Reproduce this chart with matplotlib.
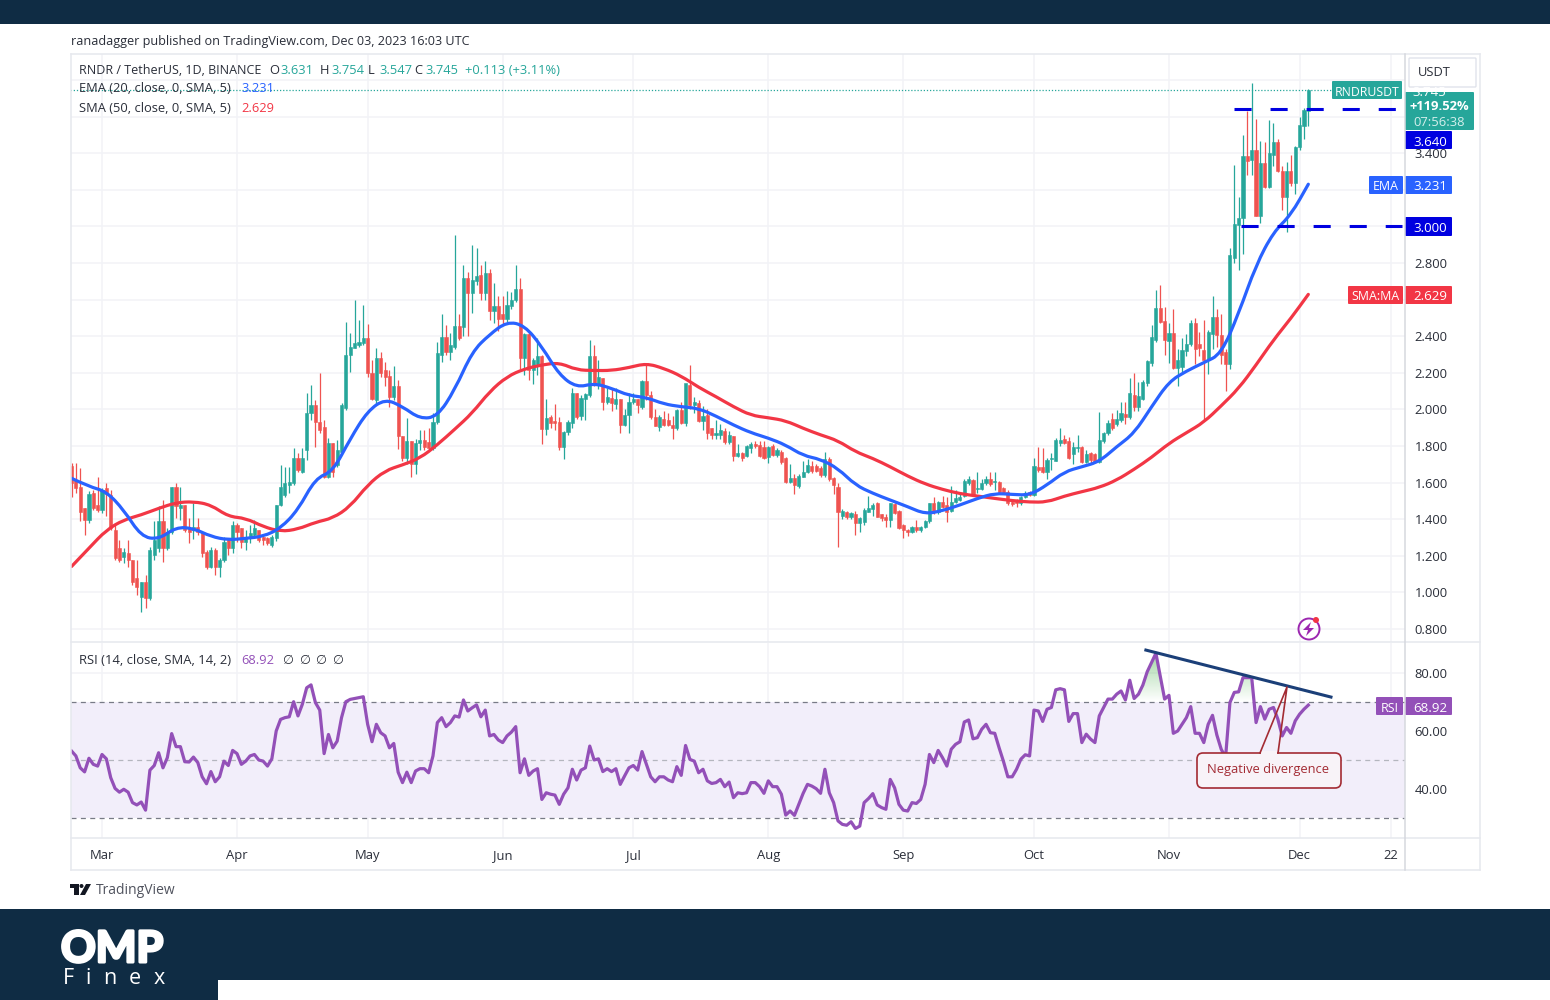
import numpy as np
import matplotlib
matplotlib.use("Agg")
import matplotlib.pyplot as plt
import matplotlib.patheffects as pe
from matplotlib.path import Path
from matplotlib.patches import Rectangle, FancyBboxPatch, Circle, Polygon, PathPatch

plt.rcParams['font.family'] = ['Open Sans', 'DejaVu Sans']

# daily candles, RNDR/USDT (days counted from Mar 1)
first_day = -7
opens = [
    1.69,1.615,1.579,1.46,1.397,1.542,1.479,1.451,1.57,1.533,
    1.342,1.242,1.196,1.215,1.178,1.078,0.978,1.06,0.969,1.205,
    1.242,1.388,1.242,1.333,1.579,1.46,1.479,1.351,1.342,1.36,
    1.333,1.224,1.142,1.233,1.142,1.178,1.287,1.242,1.369,1.351,
    1.278,1.296,1.315,1.342,1.306,1.30,1.26,1.296,1.479,1.533,
    1.588,1.597,1.734,1.661,1.779,1.98,2.025,1.934,1.903,1.633,
    1.816,1.697,1.77,2.007,2.298,2.335,2.353,2.362,2.389,2.198,
    2.052,2.28,2.216,2.185,2.07,2.129,1.857,1.737,1.83,1.70,
    1.815,1.834,1.825,1.788,1.934,2.298,2.398,2.313,2.344,2.459,
    2.453,2.717,2.635,2.70,2.735,2.639,2.745,2.536,2.568,2.52,
    2.493,2.566,2.60,2.657,2.28,2.413,2.216,2.25,2.293,1.892,
    1.958,1.938,1.934,1.797,1.879,1.925,2.089,1.965,2.06,2.08,
    2.29,2.14,2.17,2.043,2.065,2.03,2.06,1.916,1.97,2.04,
    2.06,2.015,2.157,2.079,1.961,1.905,1.948,1.942,1.915,1.897,
    1.997,1.928,2.134,2.024,2.034,1.939,1.97,1.897,1.86,1.86,
    1.882,1.824,1.857,1.746,1.764,1.746,1.79,1.81,1.806,1.797,
    1.74,1.80,1.75,1.77,1.733,1.605,1.624,1.58,1.63,1.66,
    1.69,1.69,1.68,1.642,1.728,1.624,1.575,1.42,1.442,1.415,
    1.43,1.378,1.387,1.442,1.455,1.49,1.427,1.414,1.396,1.482,
    1.447,1.37,1.34,1.332,1.36,1.34,1.356,1.392,1.487,1.44,
    1.496,1.478,1.447,1.493,1.505,1.527,1.596,1.615,1.565,1.565,
    1.596,1.618,1.606,1.605,1.569,1.551,1.496,1.50,1.487,1.52,
    1.55,1.533,1.687,1.687,1.66,1.73,1.72,1.815,1.838,1.83,
    1.757,1.79,1.797,1.715,1.76,1.755,1.715,1.83,1.87,1.948,
    1.92,1.94,1.975,1.957,2.079,2.015,2.06,2.143,2.252,2.379,
    2.552,2.485,2.375,2.416,2.225,2.234,2.32,2.36,2.47,2.36,
    2.325,2.27,2.415,2.507,2.407,2.316,2.25,2.83,3.008,3.045,
    3.385,3.363,3.418,3.06,3.349,3.214,3.39,3.463,3.305,3.159,
    3.305,3.236,3.432,3.55,3.631]
highs = [
    1.706,1.706,1.679,1.46,1.552,1.56,1.633,1.57,1.60,1.56,
    1.37,1.287,1.242,1.287,1.178,1.178,1.06,1.096,1.25,1.388,
    1.47,1.506,1.351,1.579,1.597,1.579,1.48,1.406,1.488,1.406,
    1.333,1.233,1.251,1.242,1.187,1.306,1.296,1.388,1.378,1.351,
    1.342,1.369,1.397,1.342,1.315,1.306,1.315,1.48,1.697,1.688,
    1.688,1.788,1.761,1.788,2.089,2.134,2.052,2.198,1.943,1.843,
    1.816,1.834,2.038,2.48,2.417,2.599,2.49,2.572,2.467,2.27,
    2.335,2.316,2.26,2.216,2.237,2.16,1.857,1.955,1.83,1.84,
    1.89,1.89,1.90,1.98,2.37,2.52,2.46,2.42,2.954,2.52,
    2.79,2.75,2.90,2.88,2.79,2.81,2.77,2.69,2.62,2.62,
    2.65,2.64,2.79,2.72,2.42,2.42,2.28,2.39,2.30,2.06,
    1.97,2.03,1.96,1.88,1.94,2.12,2.09,2.08,2.09,2.38,
    2.35,2.27,2.17,2.12,2.12,2.12,2.06,2.0,2.09,2.09,
    2.06,2.16,2.245,2.10,2.0,1.97,1.99,1.98,1.965,2.0,
    2.04,2.14,2.245,2.07,2.05,2.02,2.0,1.90,1.94,1.92,
    1.90,1.88,1.857,1.81,1.77,1.805,1.82,1.83,1.83,1.83,
    1.80,1.81,1.79,1.78,1.74,1.70,1.65,1.65,1.72,1.73,
    1.72,1.70,1.69,1.77,1.74,1.63,1.60,1.455,1.445,1.44,
    1.445,1.41,1.46,1.53,1.49,1.495,1.43,1.43,1.49,1.49,
    1.45,1.375,1.345,1.365,1.395,1.365,1.395,1.49,1.52,1.50,
    1.53,1.52,1.58,1.56,1.55,1.62,1.635,1.62,1.657,1.62,
    1.635,1.66,1.66,1.61,1.575,1.56,1.50,1.51,1.53,1.555,
    1.555,1.735,1.797,1.79,1.735,1.76,1.845,1.90,1.86,1.85,
    1.82,1.86,1.80,1.78,1.77,1.76,1.985,1.875,1.945,1.98,
    1.995,2.04,2.04,2.17,2.197,2.15,2.16,2.27,2.46,2.652,
    2.68,2.56,2.47,2.55,2.33,2.39,2.41,2.49,2.50,2.425,
    2.49,2.435,2.62,2.55,2.52,2.33,2.88,3.336,3.16,3.50,
    3.63,3.785,3.59,3.465,3.46,3.58,3.565,3.48,3.33,3.35,
    3.39,3.44,3.60,3.65,3.754]
lows = [
    1.524,1.542,1.388,1.315,1.378,1.45,1.44,1.433,1.42,1.34,
    1.178,1.169,1.16,1.142,1.041,0.987,0.896,0.914,0.96,1.178,
    1.224,1.169,1.233,1.32,1.406,1.397,1.33,1.269,1.29,1.315,
    1.196,1.127,1.133,1.096,1.087,1.169,1.205,1.215,1.278,1.242,
    1.233,1.269,1.306,1.278,1.26,1.26,1.251,1.28,1.47,1.524,
    1.542,1.59,1.661,1.652,1.725,1.943,1.797,1.87,1.624,1.624,
    1.633,1.688,1.761,1.998,2.207,2.335,2.34,2.35,2.18,2.05,
    2.03,2.18,2.128,2.016,2.05,1.785,1.72,1.70,1.63,1.65,
    1.78,1.78,1.78,1.78,1.92,2.26,2.30,2.27,2.33,2.38,
    2.40,2.40,2.53,2.68,2.60,2.60,2.49,2.47,2.43,2.46,
    2.48,2.55,2.59,2.22,2.19,2.16,2.14,2.19,1.81,1.86,
    1.90,1.89,1.78,1.73,1.86,1.90,1.95,1.94,1.94,2.07,
    2.13,2.11,1.998,2.03,1.99,2.0,1.87,1.91,1.87,2.03,
    1.98,2.0,2.05,1.95,1.91,1.88,1.91,1.91,1.84,1.89,
    1.92,1.91,2.0,1.98,1.93,1.89,1.84,1.84,1.84,1.84,
    1.81,1.81,1.72,1.74,1.72,1.74,1.76,1.79,1.74,1.73,
    1.71,1.745,1.74,1.70,1.60,1.60,1.54,1.57,1.63,1.655,
    1.655,1.66,1.63,1.63,1.61,1.54,1.25,1.40,1.40,1.40,
    1.315,1.33,1.37,1.44,1.42,1.41,1.39,1.36,1.36,1.43,
    1.345,1.296,1.31,1.325,1.33,1.33,1.35,1.38,1.43,1.43,
    1.46,1.385,1.44,1.49,1.50,1.52,1.585,1.53,1.545,1.56,
    1.59,1.58,1.56,1.54,1.54,1.48,1.47,1.465,1.48,1.515,
    1.525,1.53,1.66,1.655,1.62,1.67,1.72,1.80,1.81,1.73,
    1.70,1.77,1.71,1.705,1.71,1.705,1.71,1.815,1.86,1.89,
    1.91,1.93,1.92,1.95,1.99,1.99,2.05,2.13,2.24,2.37,
    2.47,2.298,2.255,2.22,2.13,2.20,2.29,2.345,2.25,2.29,
    1.94,2.195,2.33,2.34,2.25,2.10,2.22,2.80,2.76,2.85,
    3.28,3.28,3.06,3.02,3.21,3.21,3.33,3.30,3.09,2.97,
    3.22,3.18,3.42,3.48,3.547]
closes = [
    1.60,1.57,1.442,1.397,1.539,1.46,1.451,1.561,1.54,1.351,
    1.187,1.178,1.224,1.178,1.06,1.032,1.06,0.969,1.233,1.287,
    1.388,1.242,1.333,1.579,1.47,1.479,1.342,1.333,1.36,1.333,
    1.215,1.142,1.233,1.142,1.178,1.278,1.242,1.369,1.333,1.278,
    1.296,1.324,1.351,1.287,1.287,1.269,1.306,1.479,1.579,1.597,
    1.606,1.734,1.67,1.734,1.98,2.025,1.934,1.888,1.633,1.816,
    1.661,1.779,2.025,2.298,2.344,2.362,2.371,2.389,2.198,2.056,
    2.28,2.198,2.18,2.07,2.129,1.857,1.737,1.83,1.70,1.816,
    1.834,1.797,1.788,1.934,2.307,2.398,2.313,2.353,2.459,2.39,
    2.717,2.635,2.708,2.73,2.639,2.745,2.539,2.568,2.493,2.493,
    2.57,2.60,2.657,2.28,2.413,2.216,2.27,2.293,1.892,1.956,
    1.925,1.925,1.797,1.879,1.929,2.089,1.961,2.065,2.085,2.29,
    2.143,2.18,2.043,2.067,2.034,2.06,1.916,1.97,2.043,2.06,
    2.025,2.157,2.079,1.961,1.91,1.96,1.915,1.915,1.897,1.997,
    1.928,2.143,2.024,2.043,1.939,1.964,1.87,1.86,1.87,1.888,
    1.824,1.86,1.746,1.764,1.733,1.802,1.81,1.80,1.746,1.733,
    1.793,1.75,1.78,1.715,1.605,1.624,1.587,1.637,1.66,1.696,
    1.665,1.665,1.642,1.728,1.618,1.587,1.442,1.445,1.415,1.433,
    1.378,1.405,1.45,1.46,1.478,1.414,1.405,1.396,1.487,1.436,
    1.35,1.34,1.332,1.36,1.34,1.36,1.392,1.487,1.44,1.496,
    1.469,1.44,1.496,1.514,1.523,1.61,1.618,1.533,1.57,1.596,
    1.62,1.592,1.612,1.551,1.545,1.487,1.483,1.487,1.523,1.545,
    1.533,1.691,1.67,1.66,1.724,1.733,1.833,1.833,1.815,1.733,
    1.797,1.797,1.715,1.757,1.724,1.715,1.833,1.87,1.924,1.897,
    1.95,1.979,1.957,2.088,2.015,2.073,2.152,2.267,2.394,2.552,
    2.48,2.38,2.416,2.225,2.27,2.325,2.36,2.47,2.33,2.335,
    2.27,2.425,2.507,2.407,2.30,2.25,2.844,3.014,3.045,3.385,
    3.36,3.418,3.06,3.349,3.214,3.40,3.463,3.305,3.159,3.305,
    3.236,3.432,3.555,3.636,3.745]

# moving averages read every 4th day
ma_step = 4
ema20 = [
    1.624,1.579,1.552,1.451,1.306,1.29,1.357,1.351,1.306,1.287,
    1.296,1.306,1.351,1.451,1.624,1.661,1.84,1.992,2.058,2.016,
    1.949,1.961,2.107,2.316,2.41,2.48,2.46,2.344,2.189,2.12,
    2.143,2.116,2.076,2.066,2.03,2.015,2.006,1.964,1.915,1.873,
    1.844,1.806,1.748,1.728,1.678,1.587,1.542,1.505,1.469,1.429,
    1.447,1.478,1.514,1.542,1.536,1.532,1.587,1.66,1.687,1.715,
    1.797,1.87,2.015,2.152,2.21,2.256,2.303,2.525,2.79,2.97,
    3.063,3.231]
sma50 = [
    1.142,1.242,1.342,1.397,1.424,1.46,1.491,1.497,1.479,1.415,
    1.406,1.36,1.333,1.346,1.384,1.406,1.47,1.588,1.666,1.697,
    1.734,1.807,1.892,1.98,2.098,2.18,2.222,2.244,2.256,2.216,
    2.213,2.213,2.229,2.252,2.225,2.183,2.121,2.07,2.015,1.968,
    1.955,1.939,1.897,1.861,1.83,1.769,1.733,1.687,1.636,1.593,
    1.563,1.54,1.527,1.514,1.502,1.494,1.494,1.527,1.551,1.574,
    1.614,1.673,1.738,1.815,1.873,1.93,2.02,2.115,2.243,2.38,
    2.498,2.629]

rsi = [
    53.1,51.4,47.3,45.9,50.6,48.5,47.9,51.9,50.4,43.9,
    40.2,38.9,39.9,38.9,35.3,34.5,35.5,32.7,46.5,48.1,
    52.5,47.3,50.8,59.1,54.6,54.6,49.4,49.3,51.0,49.1,
    44.2,41.8,46.0,42.5,44.2,49.6,48.1,53.3,52.2,48.5,
    49.6,51.4,51.9,50.0,49.6,47.9,50.4,60.0,64.0,64.6,
    64.9,70.1,65.2,69.2,74.9,75.9,69.8,67.2,52.2,58.8,
    54.2,56.5,64.6,70.1,70.9,71.2,71.5,71.8,62.3,56.3,
    62.3,59.4,58.3,54.2,55.7,45.8,42.2,45.8,42.2,46.2,
    47,47,45.6,51.4,62.9,64.6,61.5,62.9,65.2,64.8,
    70.7,66.9,68,69,64.9,67.2,58.3,58.8,56.9,56,
    58.3,59.6,61.5,45.6,50.4,44.7,46.2,47,36.4,38.7,
    38.2,37.9,34.7,38.2,40.4,46.8,43.1,46.5,47.3,54.8,
    50,50.4,46,47,46,47,41.6,44.5,47.3,48.1,
    46.5,52.9,48.5,44.2,42.5,44.2,44.2,43.1,42.5,47.7,
    44.7,55,50.2,49.6,45.6,46.8,42.8,41.9,42.2,43.3,
    40.8,42.4,37,38.7,38.4,38.7,42.2,42.2,40.8,38.5,
    42.8,40.8,40.8,38.2,31,32.4,30.9,34.7,38.5,41.6,
    41,40.1,38.5,46.8,38.7,35.3,29,27.8,27.5,28.7,
    26.4,27.2,35.3,36.7,38.4,34.5,33.6,33,43.3,40.4,
    34.7,32.7,32.4,35.3,35,36.4,41.6,51.9,49.1,53.3,
    50.8,47.9,53.7,55.4,56.3,63.1,63.8,57.3,57.7,60.6,
    62.3,59.4,59.2,54.2,49.5,44.2,44.2,46.8,50.3,51.8,
    51.4,67.2,66.9,63.3,67.5,68.1,74.2,74.6,74.2,63.3,
    66,66,56,58.9,57.2,56,65.2,68.1,71,71,
    72.7,73.8,70.7,77.5,71.2,72.7,75.8,80.4,83.6,86.8,
    79,71,72.3,59.2,60,62.3,64.6,68.4,59.2,59.2,
    56,62.3,65.4,58.6,53.7,50.9,69.8,73.3,73.5,78.4,
    78.4,78.4,62.9,68.4,64.1,67.5,68.1,64.1,58.3,61.2,
    59.2,63.5,65.8,67.5,68.92]

month_days = [0, 31, 61, 92, 122, 153, 184, 214, 245, 275, 296]
month_labels = ['Mar', 'Apr', 'May', 'Jun', 'Jul', 'Aug', 'Sep', 'Oct', 'Nov', 'Dec', '22']
price_ticks = [0.8, 1.0, 1.2, 1.4, 1.6, 1.8, 2.0, 2.2, 2.4, 2.6, 2.8, 3.0, 3.2, 3.4, 3.6, 3.8]
price_tick_labels = ['0.800', '1.000', '1.200', '1.400', '1.600', '1.800', '2.000', '2.200',
                     '2.400', '', '2.800', '', '', '3.400', '', '']
rsi_ticks = [40, 60, 80]
rsi_tick_labels = ['40.00', '60.00', '80.00']
resistance = 3.64
support = 3.0

GREEN = '#26a69a'
RED = '#ef5350'
BLUE = '#2962ff'
MA_RED = '#f23645'
PURPLE = '#9350b8'
NAVY = '#0f2c44'
GRID = '#f2f3f7'
TEXT = '#2a2e39'
W, H = 1550, 1000


def pane(x0, y0, x1, y1):
    # axes placed by its pixel box (y from the top)
    return fig.add_axes([x0/W, 1-y1/H, (x1-x0)/W, (y1-y0)/H])


def tag(ax, x0, x1, y0, y1, color, label, size=8.9, dx=0):
    ax.add_patch(FancyBboxPatch((x0+1, y0+1), x1-x0-2, y1-y0-2, boxstyle='round,pad=1',
                                fc=color, ec=color, lw=0))
    ax.text((x0+x1)/2+dx, (y0+y1)/2+0.5, label, color='white', fontsize=size, ha='center', va='center_baseline')


def soft_line(ax, x, y, color):
    # drawn through the read points with rounded corners instead of sharp ones
    pts = np.column_stack((x, y))
    verts = [pts[0]]
    codes = [Path.MOVETO]
    for i in range(1, len(pts)-1):
        verts += [pts[i], (pts[i]+pts[i+1])/2]
        codes += [Path.CURVE3, Path.CURVE3]
    verts.append(pts[-1])
    codes.append(Path.LINETO)
    ax.add_patch(PathPatch(Path(verts, codes), fc='none', ec=color, lw=2.3, capstyle='round', zorder=4))


fig = plt.figure(figsize=(W/100, H/100), dpi=100, facecolor='white')

days = np.arange(first_day, first_day+len(closes))
o, h, l, c = map(np.array, (opens, highs, lows, closes))
up = c >= o
colors = np.where(up, GREEN, RED)

# price pane
ax = pane(71, 54, 1405, 642)
ax.vlines(days, l, h, colors=colors, lw=0.9, zorder=3)
ax.bar(days, np.abs(c-o), bottom=np.minimum(o, c), width=0.72, color=colors, lw=0.4, edgecolor=colors, zorder=3)
ma_days = np.arange(first_day, first_day+len(ema20)*ma_step, ma_step)
soft_line(ax, ma_days, sma50, MA_RED)
soft_line(ax, ma_days, ema20, BLUE)
ax.plot([first_day-1, 283], [closes[-1], closes[-1]], color=GREEN, lw=0.9, ls=(0, (1, 1.5)), zorder=2)
ax.plot([260, 298.5], [resistance, resistance], color='#0000e0', lw=2.2, ls=(0, (5.6, 6.2)), zorder=5)
ax.plot([261.5, 298.5], [support, support], color='#0000e0', lw=2.2, ls=(0, (5.6, 6.2)), zorder=5)
ax.set_xlim(-7.12, 299.2)
ax.set_ylim(0.7295, 3.9426)
ax.set_xticks(month_days)
ax.set_xticklabels([])
ax.set_yticks(price_ticks)
ax.set_yticklabels(price_tick_labels)
ax.yaxis.tick_right()
ax.tick_params(axis='y', length=0, pad=7, labelsize=9.4, labelcolor=TEXT)
ax.tick_params(axis='x', length=0)
ax.grid(True, color=GRID, lw=1.1)
ax.set_axisbelow(True)
for s in ax.spines.values():
    s.set_visible(False)

# RSI pane
ax2 = pane(71, 643, 1405, 838)
ax2.axhspan(30, 70, color='#f2eefa', lw=0, zorder=1)
ax2.axhline(70, color='#787b86', lw=0.9, ls=(0, (4, 3.5)), zorder=2)
ax2.axhline(50, color='#b4b6be', lw=0.9, ls=(0, (4, 3.5)), zorder=2)
ax2.axhline(30, color='#787b86', lw=0.9, ls=(0, (4, 3.5)), zorder=2)
r = np.array(rsi)
# overbought fill fades out towards the 70 level
over = ax2.fill_between(days, 70, r, where=r > 70, interpolate=True, color='none', lw=0)
fade = np.zeros((64, 1, 4))
fade[..., :3] = (0.30, 0.69, 0.31)
fade[:, 0, 3] = np.linspace(0.55, 0, 64)
im = ax2.imshow(fade, extent=[-7.12, 299.2, 70, 88], aspect='auto', origin='upper', zorder=3)
im.set_clip_path(Path.make_compound_path(*over.get_paths()), transform=ax2.transData)
ax2.plot(days, rsi, color=PURPLE, lw=2.3, zorder=4)
ax2.plot([239.7, 282.2], [87.9, 71.7], color='#1b3f78', lw=2.2, zorder=5)
ax2.set_xlim(-7.12, 299.2)
ax2.set_ylim(23.1, 90.34)
ax2.set_xticks(month_days)
ax2.set_xticklabels(month_labels)
ax2.set_yticks(rsi_ticks)
ax2.set_yticklabels(rsi_tick_labels)
ax2.yaxis.tick_right()
ax2.tick_params(axis='y', length=0, pad=7, labelsize=9.4, labelcolor=TEXT)
ax2.tick_params(axis='x', length=0, pad=8, labelsize=9.4, labelcolor=TEXT)
ax2.grid(True, color=GRID, lw=1.1)
ax2.set_axisbelow(True)
for s in ax2.spines.values():
    s.set_visible(False)

# overlay in pixel coordinates for the frame, tags and legend text
top = fig.add_axes([0, 0, 1, 1], zorder=10)
top.set_xlim(0, W)
top.set_ylim(H, 0)
top.axis('off')

# frame
for seg in ([(71, 54), (1480, 54)], [(1480, 54), (1480, 870)], [(71, 870), (1480, 870)], [(71, 54), (71, 870)],
            [(71, 642), (1480, 642)], [(71, 838), (1480, 838)], [(1405, 54), (1405, 870)]):
    col = '#d6d8de' if seg[0][0] == 1405 else '#e6e8ee'
    top.plot([seg[0][0], seg[1][0]], [seg[0][1], seg[1][1]], color=col, lw=1.1)

# brand bands
top.add_patch(Rectangle((0, 0), W, 24, fc=NAVY, lw=0))
top.add_patch(Rectangle((0, 909), W, 91, fc=NAVY, lw=0))
top.add_patch(Rectangle((218, 980), W-218, 20, fc='white', lw=0))
top.text(61, 949, 'OMP', color='white', fontsize=31, fontweight='bold', family='Lato', va='center', ha='left',
         path_effects=[pe.withStroke(linewidth=2.2, foreground='white')])
for xp, ch in zip((68, 88, 110, 135, 159), 'Finex'):
    top.text(xp, 978, ch, color='white', fontsize=15.5, family='Open Sans', va='center', ha='center')

# header
top.text(71, 41, 'ranadagger published on TradingView.com, Dec 03, 2023 16:03 UTC', color=TEXT,
         fontsize=9.1, va='center')

# legend
top.text(79, 71, 'RNDR / TetherUS, 1D, BINANCE', color=TEXT, fontsize=9.0, va='center')
for xp, lab, val in ((269, 'O', '3.631'), (320, 'H', '3.754'), (368, 'L', '3.547'), (414, 'C', '3.745')):
    top.text(xp, 71, lab, color=TEXT, fontsize=9.3, va='center')
    top.text(xp+11, 71, val, color=GREEN, fontsize=9.3, va='center')
top.text(465, 71, '+0.113 (+3.11%)', color=GREEN, fontsize=9.3, va='center')
top.text(79, 89, 'EMA (20, close, 0, SMA, 5)', color=TEXT, fontsize=9.3, va='center')
top.text(241, 89, '3.231', color=BLUE, fontsize=9.3, va='center')
top.text(79, 108, 'SMA (50, close, 0, SMA, 5)', color=TEXT, fontsize=9.3, va='center')
top.text(241, 108, '2.629', color=MA_RED, fontsize=9.3, va='center')
top.text(79, 661, 'RSI (14, close, SMA, 14, 2)', color=TEXT, fontsize=9.4, va='center')
top.text(241, 661, '68.92', color=PURPLE, fontsize=9.3, va='center')
for xp in (287, 304, 320, 337):
    top.text(xp, 660, '\u2205', color=TEXT, fontsize=9, ha='center', va='center', family='DejaVu Sans')

# price scale tags
top.add_patch(FancyBboxPatch((1410, 59), 65, 27, boxstyle='round,pad=1', fc='white', ec='#e0e3eb', lw=1))
top.text(1434, 73, 'USDT', color=TEXT, fontsize=9.3, ha='center', va='center')
tag(top, 1332, 1402, 81, 99, GREEN, 'RNDRUSDT', 8.8)
top.add_patch(FancyBboxPatch((1406, 93), 67, 36, boxstyle='round,pad=1', fc=GREEN, ec=GREEN, lw=0))
top.text(1429, 92, '3.745', color='white', fontsize=9.5, ha='center', va='center')
top.text(1439, 106, '+119.52%', color='white', fontsize=9.4, ha='center', va='center', fontweight='bold')
top.text(1439, 122, '07:56:38', color='#d5efec', fontsize=9.4, ha='center', va='center')
tag(top, 1405, 1452, 131, 149, '#0000e0', '3.640', 9.6, 1.5)
tag(top, 1405, 1452, 217, 236, '#0000e0', '3.000', 9.6, 1.5)
tag(top, 1369, 1403, 176, 194, BLUE, 'EMA')
tag(top, 1405, 1452, 176, 194, BLUE, '3.231', 9.6, 1.5)
tag(top, 1348, 1403, 286, 304, MA_RED, 'SMA:MA')
tag(top, 1405, 1452, 286, 304, MA_RED, '2.629', 9.6, 1.5)
tag(top, 1376, 1403, 697, 715, PURPLE, 'RSI')
tag(top, 1405, 1452, 697, 715, PURPLE, '68.92', 9.6, 1.5)

# callout
DARK_RED = '#a32b33'
top.add_patch(FancyBboxPatch((1203, 759), 132, 23, boxstyle='round,pad=6', fc='#f8f3f8', ec=DARK_RED, lw=1.2))
top.add_patch(Rectangle((1261, 751), 16, 4, fc='#f8f3f8', lw=0))
top.plot([1260, 1287, 1278], [753, 687, 753], color=DARK_RED, lw=1.2)
top.text(1268, 770, 'Negative divergence', color=DARK_RED, fontsize=9.3, ha='center', va='center')

# replay icon
top.add_patch(Circle((1309, 629), 10.5, fc='none', ec='#9c27b0', lw=1.4))
top.add_patch(Polygon([(1311, 622), (1303, 630), (1308, 630), (1306, 636), (1314, 628), (1309, 628)], fc='#9c27b0', lw=0))
top.add_patch(Circle((1316, 620), 3, fc='#f23645', lw=0))

# TradingView logo
top.add_patch(Polygon([(70, 884), (79, 884), (79, 895), (74, 895), (74, 888), (70, 888)], fc='#131722', lw=0))
top.add_patch(Circle((81.5, 886), 2, fc='#131722', lw=0))
top.add_patch(Polygon([(86, 884), (91, 884), (85, 895), (80, 895)], fc='#131722', lw=0))
top.text(96, 890, 'TradingView', color='#50535e', fontsize=10, va='center')

fig.savefig('out.png', dpi=100)
